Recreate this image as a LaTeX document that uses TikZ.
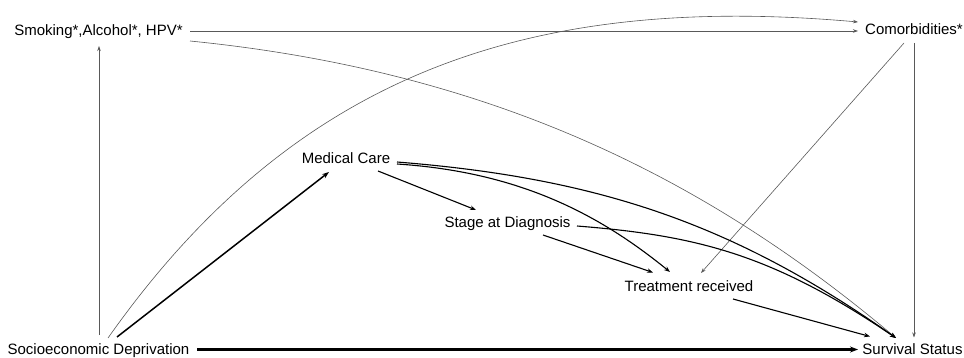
\documentclass[tikz,border=0pt]{standalone}
\usepackage{fontspec}
\setmainfont{Liberation Sans}
\usetikzlibrary{arrows.meta,calc}
\begin{document}
\begin{tikzpicture}[x=1pt,y=-1pt,
  lbl/.style={anchor=base,inner sep=0pt,font=\fontsize{15}{18}\selectfont},
  thinedge/.style={draw=black!65,line width=0.6pt,-{Stealth[length=5pt,width=3.5pt]}},
  midedge/.style={draw=black,line width=1.1pt,-{Stealth[length=6pt,width=4.5pt]}},
  thickedge/.style={draw=black,line width=1.5pt,-{Stealth[length=7pt,width=5pt]}},
  heavyedge/.style={draw=black,line width=2.2pt,-{Stealth[length=8pt,width=6pt]}}]
\useasboundingbox (0,0) rectangle (964,358);
% nodes
\node[lbl] (smk) at (98.5,35.5) {Smoking*,Alcohol*, HPV*};
\node[lbl] (com) at (914,35) {Comorbidities*};
\node[lbl] (soc) at (98.5,354) {Socioeconomic Deprivation};
\node[lbl] (surv) at (912.5,354.5) {Survival Status};
\node[lbl] (mc) at (346,164) {Medical Care};
\node[lbl] (stage) at (507.5,227.5) {Stage at Diagnosis};
\node[lbl] (treat) at (689,291.5) {Treatment received};
% thin edges
\draw[thinedge] ($(soc.base)+(0.5,-19)$) -- ($(smk.base)+(0.5,10.5)$);
\draw[thinedge] ($(smk.base)+(91.5,-4.5)$) -- ($(com.base)+(-56,-4)$);
\draw[thinedge] ($(smk.base)+(91.5,5.5)$) .. controls (490,71) and (705,177) .. ($(surv.base)+(-16.5,-16.5)$);
\draw[thinedge] ($(soc.base)+(9.5,-16)$) .. controls (290,80) and (520,-8) .. ($(com.base)+(-56,-13)$);
\draw[thinedge] ($(com.base)+(-10,8)$) -- ($(treat.base)+(12,-18.5)$);
\draw[thinedge] ($(com.base)+(0,8)$) -- ($(surv.base)+(1.5,-17)$);
% strong edges
\draw[thickedge] ($(soc.base)+(18.5,-17)$) -- ($(mc.base)+(-17,8)$);
\draw[heavyedge] ($(soc.base)+(98.5,-4.5)$) -- ($(surv.base)+(-54.5,-5)$);
% medium edges
\draw[midedge] ($(mc.base)+(32,7)$) -- ($(stage.base)+(-31.5,-17.5)$);
\draw[midedge] ($(mc.base)+(51,0)$) .. controls (520,172) and (600,215) .. ($(treat.base)+(-19,-19.5)$);
\draw[midedge] ($(mc.base)+(51,-2)$) .. controls (597,178) and (733,223) .. ($(surv.base)+(-16.5,-16.5)$);
\draw[midedge] ($(stage.base)+(35.5,7.5)$) -- ($(treat.base)+(-36,-19)$);
\draw[midedge] ($(stage.base)+(69.5,-1.5)$) .. controls (697,235.6) and (772,254) .. ($(surv.base)+(-16.5,-16.5)$);
\draw[midedge] ($(treat.base)+(44,7.5)$) -- ($(surv.base)+(-42.5,-18)$);
\end{tikzpicture}
\end{document}
